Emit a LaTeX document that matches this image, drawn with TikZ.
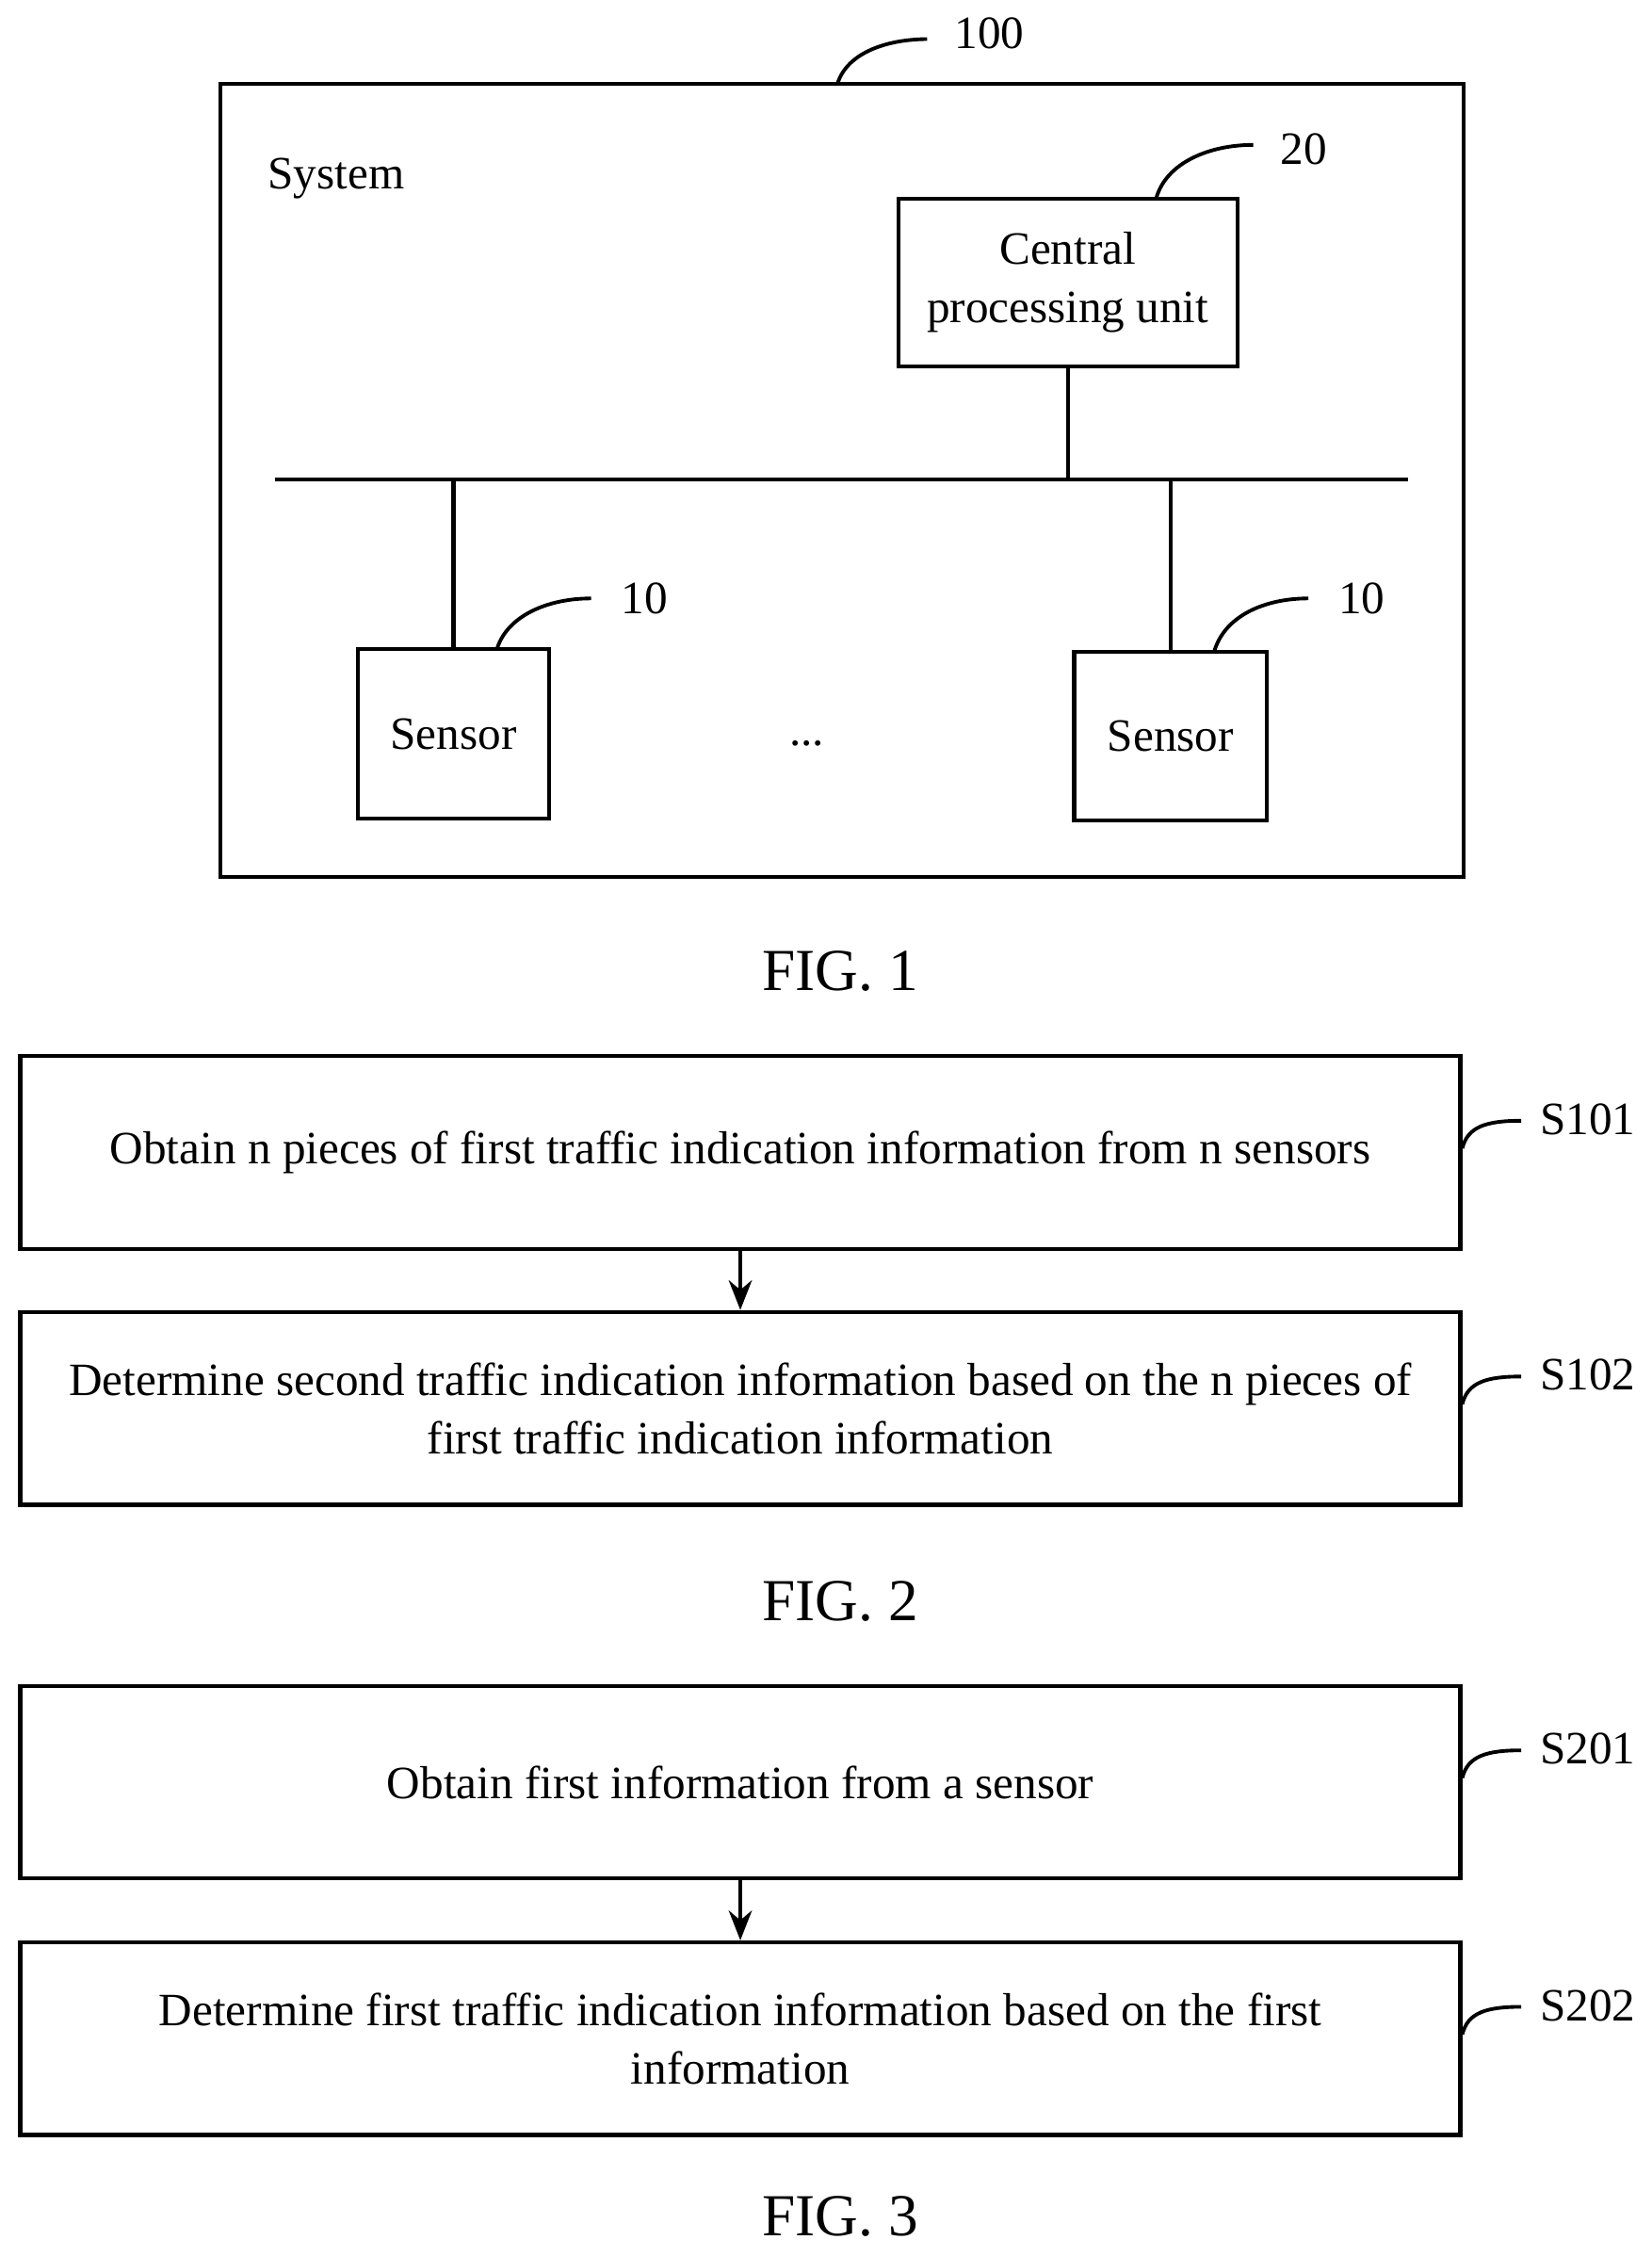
\documentclass[tikz,border=0pt]{standalone}
\usepackage{fontspec}
\setmainfont{Liberation Serif}
\usetikzlibrary{arrows.meta}
\begin{document}
\begin{tikzpicture}[x=0.01538cm,y=-0.01538cm,
  box/.style={draw,line width=1.2pt,inner sep=0pt},
  txt/.style={font=\fontsize{14}{17.5}\selectfont,align=center},
  fig/.style={font=\fontsize{18}{22}\selectfont},
  lead/.style={line width=1.1pt},
  flow/.style={line width=1.1pt,-{Stealth[length=9pt,width=7pt]}}]
\useasboundingbox (0,0) rectangle (1140,1557);
% FIG. 1
\node [box,minimum width=858*0.01538cm,minimum height=547*0.01538cm] (sys) at (581,331.5) {};
\node [txt] (syslbl) at (232,123) {System};
\coordinate (sysleadend) at (640,27);
\draw [lead] (578,58) .. controls (585,35) and (615,27) .. (sysleadend);
\node [txt] (l100) at (683,23) {100};
\node [box,txt,minimum width=234*0.01538cm,minimum height=116*0.01538cm] (cpu) at (737,195) {Central\\processing unit};
\draw [lead] (798,137) .. controls (805,112) and (835,100) .. (865,100);
\node [txt] (l20) at (900,103) {20};
\coordinate (busL) at (190,331);
\coordinate (busR) at (972,331);
\draw [line width=1.2pt] (busL) -- (busR);
\draw [line width=1.2pt] (cpu.south) -- (737,331);
\node [box,txt,minimum width=132*0.01538cm,minimum height=117*0.01538cm] (sensA) at (313,506.5) {Sensor};
\node [box,txt,minimum width=133*0.01538cm,minimum height=116*0.01538cm] (sensB) at (808,508) {Sensor};
\draw [line width=1.2pt] (313,331) -- (sensA.north);
\draw [line width=1.2pt] (808,331) -- (sensB.north);
\draw [lead] (343,448) .. controls (350,425) and (378,413) .. (408,413);
\draw [lead] (838,450) .. controls (845,425) and (873,413) .. (903,413);
\node [txt] (l10a) at (445,413) {10};
\node [txt] (l10b) at (940,413) {10};
\node [txt] (dots) at (557,513) {...};
\node [fig] (fig1) at (580,670) {FIG. 1};
% FIG. 2 and FIG. 3
\foreach \name/\y/\t/\lbl in {
  s101/795.5/{Obtain n pieces of first traffic indication information from n sensors}/S101,
  s102/972/{Determine second traffic indication information based on the n pieces of\\first traffic indication information}/S102,
  s201/1230/{Obtain first information from a sensor}/S201,
  s202/1407/{Determine first traffic indication information based on the first\\information}/S202}{
  \node [box,txt,minimum width=994*0.01538cm,minimum height=133*0.01538cm] (\name) at (511,\y) {\t};
  \coordinate (\name lead) at (1050,\y-22);
  \draw [lead] (\name.east) ++(0,-3) .. controls (1013,\y-18) and (1026,\y-22) .. (\name lead);
  \node [txt,anchor=east] (\name lbl) at (1137,\y-23) {\lbl};
}
\draw [flow] (s101) -- (s102);
\draw [flow] (s201) -- (s202);
\node [fig] (fig2) at (580,1105) {FIG. 2};
\node [fig] (fig3) at (580,1530) {FIG. 3};
\end{tikzpicture}
\end{document}
